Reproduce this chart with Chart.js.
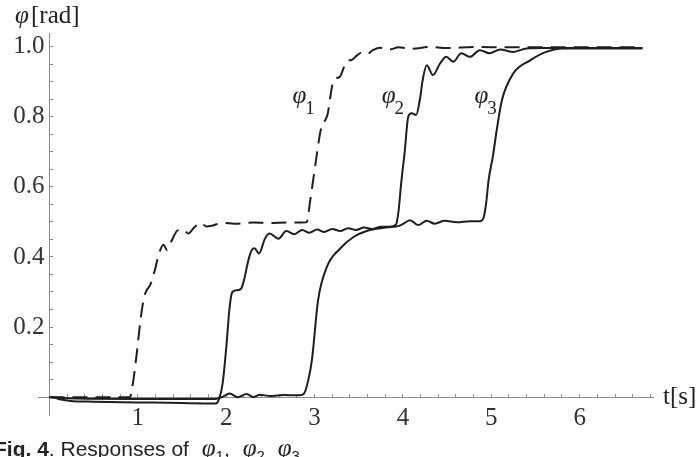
<!DOCTYPE html>
<html lang="en">
  <head>
    <meta charset="utf-8" />
    <title>Responses of φ1, φ2, φ3</title>
    <script src="https://cdn.jsdelivr.net/npm/chart.js@4.4.1/dist/chart.umd.min.js"></script>
    <style>
      body { margin: 0; background: #fff; }
      .wrap { position: relative; width: 698px; height: 457px; overflow: hidden; }
      .caption {
        position: absolute; left: -6px; top: 434px; white-space: nowrap;
        font: 21px "Liberation Sans", Arial, sans-serif; color: #222;
      }
      .caption i { font-family: "Liberation Serif", serif; font-size: 25px; margin-left: 7px; }
      .caption sub { font-size: 15px; }
    </style>
  </head>
  <body>
    <div class="wrap">
      <canvas id="chart" width="698" height="457"></canvas>
      <div class="caption">
        <b>Fig. 4</b>. Responses of <i>φ</i><sub>1</sub>, <i>φ</i><sub>2</sub> <i>φ</i><sub>3</sub>
      </div>
    </div>
    <script>
      // time [s] and angle [rad]
      const t1 = [0, 0.91, 0.95, 0.99, 1.03, 1.07, 1.10, 1.14, 1.19, 1.24,
        1.29, 1.33, 1.38, 1.45, 1.51, 1.57, 1.64, 1.71, 1.78, 1.85,
        1.95, 2.1, 2.3, 2.5, 2.7, 2.91, 2.95, 2.99, 3.03, 3.06,
        3.09, 3.12, 3.15, 3.18, 3.21, 3.25, 3.29, 3.33, 3.37, 3.42,
        3.48, 3.54, 3.6, 3.66, 3.74, 3.85, 3.95, 4.1, 4.3, 4.5,
        4.8, 5.2, 6.71];
      const phi1 = [0, 0, 0.05, 0.13, 0.22, 0.285, 0.305, 0.32, 0.36, 0.41,
        0.435, 0.42, 0.445, 0.476, 0.478, 0.467, 0.485, 0.497, 0.487, 0.49,
        0.497, 0.495, 0.498, 0.497, 0.498, 0.499, 0.56, 0.63, 0.70, 0.75,
        0.78, 0.79, 0.81, 0.86, 0.9, 0.91, 0.915, 0.94, 0.96, 0.962,
        0.975, 0.984, 0.98, 0.99, 0.997, 0.992, 0.998, 0.994, 0.999, 0.996,
        0.999, 0.998, 0.998];

      const t2 = [0, 0.06, 0.13, 0.24, 0.5, 1.0, 1.5, 1.88, 1.92, 1.96,
        2.0, 2.04, 2.07, 2.12, 2.17, 2.21, 2.25, 2.29, 2.32, 2.37,
        2.44, 2.49, 2.59, 2.68, 2.77, 2.86, 2.94, 3.03, 3.11, 3.2,
        3.29, 3.38, 3.47, 3.56, 3.65, 3.75, 3.85, 3.92, 3.95, 3.98,
        4.02, 4.06, 4.10, 4.15, 4.19, 4.23, 4.27, 4.34, 4.42, 4.49,
        4.57, 4.66, 4.76, 4.87, 4.98, 5.1, 5.25, 5.4, 5.6, 6.71];
      const phi2 = [0, -0.002, -0.007, -0.011, -0.013, -0.015, -0.017, -0.018, -0.005, 0.04,
        0.14, 0.26, 0.3, 0.305, 0.31, 0.343, 0.39, 0.42, 0.425, 0.41,
        0.453, 0.467, 0.452, 0.474, 0.465, 0.477, 0.469, 0.478, 0.471, 0.48,
        0.474, 0.482, 0.477, 0.484, 0.48, 0.486, 0.486, 0.492, 0.53, 0.61,
        0.70, 0.80, 0.81, 0.805, 0.847, 0.914, 0.947, 0.919, 0.952, 0.971,
        0.957, 0.981, 0.971, 0.99, 0.981, 0.992, 0.985, 0.995, 0.996, 0.996];

      const t3 = [0, 0.1, 0.3, 1.0, 1.88, 1.95, 2.04, 2.13, 2.23, 2.31,
        2.38, 2.5, 2.65, 2.83, 2.88, 2.93, 2.97, 3.04, 3.14, 3.29,
        3.44, 3.59, 3.75, 3.89, 3.95, 4.02, 4.08, 4.17, 4.27, 4.36,
        4.47, 4.61, 4.76, 4.87, 4.91, 4.94, 4.97, 5.02, 5.06, 5.12,
        5.25, 5.44, 5.62, 5.81, 6.0, 6.71];
      const phi3 = [0, -0.002, -0.004, -0.005, -0.005, 0.0, 0.01, 0.0, 0.009, 0.0,
        0.007, 0.003, 0.006, 0.005, 0.01, 0.05, 0.106, 0.277, 0.372, 0.424,
        0.457, 0.474, 0.482, 0.486, 0.488, 0.497, 0.505, 0.491, 0.503, 0.495,
        0.503, 0.499, 0.502, 0.502, 0.51, 0.55, 0.62, 0.69, 0.76, 0.847,
        0.924, 0.961, 0.985, 0.995, 0.995, 0.995];

      const xTickLabels = [1, 2, 3, 4, 5, 6];
      const yTickLabels = [0.2, 0.4, 0.6, 0.8, 1.0];

      const toPoints = (ts, vs) => ts.map((t, i) => ({ x: t, y: vs[i] }));
      const near = (v, step) => Math.abs(v / step - Math.round(v / step)) < 1e-6;

      const lineColor = "#1e1e1e";
      const axisColor = "#8c8c8c";
      const serif = "'Liberation Serif', 'Times New Roman', serif";

      // names of the curves, placed in data coordinates
      const curveLabels = [
        { t: 2.75, v: 0.839, sub: "1" },
        { t: 3.76, v: 0.839, sub: "2" },
        { t: 4.81, v: 0.839, sub: "3" },
      ];

      const annotations = {
        id: "annotations",
        afterDraw(chart) {
          const { ctx, scales: { x, y } } = chart;
          ctx.save();
          ctx.fillStyle = "#222";
          ctx.textBaseline = "alphabetic";
          ctx.textAlign = "left";
          // axis names
          ctx.font = "italic 25px " + serif;
          ctx.fillText("φ", 15, 23);
          ctx.font = "25px " + serif;
          ctx.fillText("[rad]", 31, 23);
          ctx.fillText("t[s]", 663, 404);
          // curve names
          curveLabels.forEach((l) => {
            const px = x.getPixelForValue(l.t);
            const py = y.getPixelForValue(l.v);
            ctx.font = "italic 25px " + serif;
            ctx.fillText("φ", px, py);
            const w = ctx.measureText("φ").width;
            ctx.font = "19px " + serif;
            ctx.fillText(l.sub, px + w - 1, py + 11);
          });
          ctx.restore();
        },
      };

      const series = (data, dash) => ({
        data: data,
        borderColor: lineColor,
        borderWidth: 2,
        borderDash: dash,
        pointRadius: 0,
        fill: false,
        cubicInterpolationMode: "monotone",
      });

      new Chart(document.getElementById("chart"), {
        type: "line",
        data: {
          datasets: [
            series(toPoints(t3, phi3), []),
            series(toPoints(t2, phi2), []),
            series(toPoints(t1, phi1), [15, 8]),
          ],
        },
        options: {
          responsive: false,
          animation: false,
          layout: { padding: { left: 38, right: 45, top: 33, bottom: 42 } },
          plugins: { legend: { display: false }, tooltip: { enabled: false } },
          scales: {
            x: {
              type: "linear",
              min: -0.13,
              max: 6.83,
              position: { y: 0 },
              afterFit: (s) => { s.height = 0; },
              border: { color: axisColor, width: 1 },
              grid: {
                drawOnChartArea: false,
                tickLength: -4,
                color: (c) => (c.tick && c.tick.value > 0.1 && near(c.tick.value, 0.2) ? axisColor : "rgba(0,0,0,0)"),
              },
              ticks: {
                stepSize: 0.2,
                includeBounds: false,
                autoSkip: false,
                maxRotation: 0,
                padding: 13,
                color: "#333",
                font: { family: serif, size: 25, lineHeight: 1 },
                callback: (v) => (xTickLabels.some((l) => Math.abs(l - v) < 1e-6) ? String(Math.round(v)) : ""),
              },
            },
            y: {
              type: "linear",
              min: -0.051,
              max: 1.039,
              position: { x: 0 },
              afterFit: (s) => { s.width = 0; },
              border: { color: axisColor, width: 1 },
              grid: {
                drawOnChartArea: false,
                tickLength: -4,
                color: (c) => (c.tick && c.tick.value > 0.02 && near(c.tick.value, 0.05) ? axisColor : "rgba(0,0,0,0)"),
              },
              ticks: {
                stepSize: 0.05,
                includeBounds: false,
                autoSkip: false,
                color: "#333",
                font: { family: serif, size: 25, lineHeight: 1 },
                // thin space keeps the label off the axis line
                callback: (v) => (yTickLabels.some((l) => Math.abs(l - v) < 1e-6) ? v.toFixed(1) + "\u2009" : ""),
              },
            },
          },
        },
        plugins: [annotations],
      });
    </script>
  </body>
</html>
